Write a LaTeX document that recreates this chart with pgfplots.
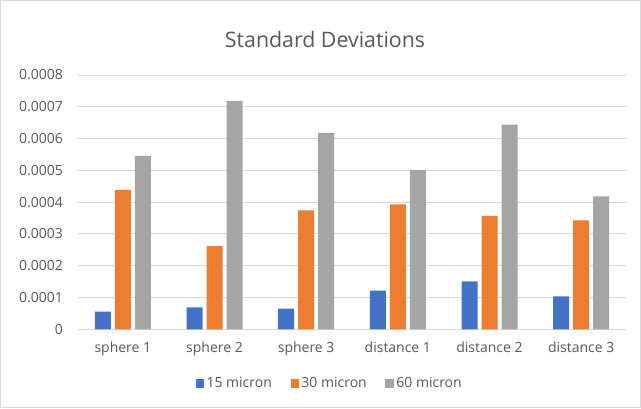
\documentclass[border=0pt]{standalone}
\usepackage{pgfplots}
\pgfplotsset{compat=1.18}
\usepackage{fontspec}
\setmainfont{Open Sans}
\definecolor{sblue}{HTML}{4472C4}
\definecolor{sorange}{HTML}{ED7D31}
\definecolor{sgray}{HTML}{A5A5A5}
\definecolor{gridc}{HTML}{D9D9D9}
\definecolor{txt}{HTML}{595959}
\begin{document}
\begin{tikzpicture}
\fill[white] (0,0) rectangle (480.75pt,306pt);
\draw[gridc, line width=0.75pt] (0.4pt,0.4pt) rectangle (480.35pt,305.6pt);
\node[font=\fontsize{16}{18}\selectfont, text=txt] at (243.75pt,276pt) {Standard Deviations};
\begin{axis}[
  at={(57.75pt,59pt)}, anchor=south west,
  scale only axis, width=412.5pt, height=190.75pt,
  xmin=-0.5, xmax=5.5, ymin=0, ymax=0.0008,
  xtick={0,1,2,3,4,5},
  xticklabels={sphere 1,sphere 2,sphere 3,distance 1,distance 2,distance 3},
  ytick={0,0.0001,0.0002,0.0003,0.0004,0.0005,0.0006,0.0007,0.0008},
  yticklabels={0,0.0001,0.0002,0.0003,0.0004,0.0005,0.0006,0.0007,0.0008},
  scaled y ticks=false,
  /pgf/number format/assume math mode=true,
  ticklabel style={font=\fontsize{10.5}{12}\selectfont, text=txt},
  xticklabel style={yshift=-6pt},
  yticklabel style={xshift=-7pt},
  major tick length=0pt,
  axis line style={draw=none},
  ymajorgrids, grid style={gridc, line width=0.75pt},
  bar width=12pt,
  legend columns=3,
  legend style={at={(0.46,-0.2126)}, anchor=center, draw=none, fill=none,
    font=\fontsize{10.5}{12}\selectfont, text=txt,
    /tikz/every even column/.append style={column sep=12pt}},
  legend image code/.code={\fill[#1] (0pt,-3.2pt) rectangle (6.2pt,3.2pt);},
]
\addplot[ybar, bar shift=-15pt, fill=sblue, draw=none] coordinates {(0,0.000056) (1,0.000069) (2,0.000065) (3,0.000122) (4,0.000151) (5,0.000104)};
\addlegendentry{15 micron}
\addplot[ybar, bar shift=0pt, fill=sorange, draw=none] coordinates {(0,0.000439) (1,0.000262) (2,0.000374) (3,0.000393) (4,0.000357) (5,0.000343)};
\addlegendentry{30 micron}
\addplot[ybar, bar shift=15pt, fill=sgray, draw=none] coordinates {(0,0.000546) (1,0.000718) (2,0.000618) (3,0.000501) (4,0.000644) (5,0.000418)};
\addlegendentry{60 micron}
\end{axis}
\end{tikzpicture}
\end{document}
